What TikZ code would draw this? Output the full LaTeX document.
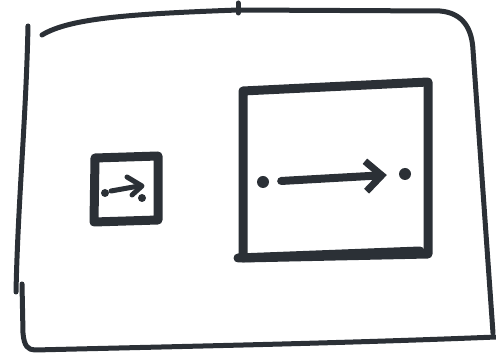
\documentclass[tikz,border=0pt]{standalone}
\usetikzlibrary{arrows.meta}
\definecolor{ink}{HTML}{2B3036}
\begin{document}
\begin{tikzpicture}[x=1pt,y=-1pt,
  thin ink/.style={draw=ink,line width=5pt,line cap=round,line join=round},
  thick ink/.style={draw=ink,line width=9pt,line cap=round,line join=round},
  dotnode/.style={circle,fill=ink,inner sep=0pt,minimum size=12pt},
  smalldot/.style={circle,fill=ink,inner sep=0pt,minimum size=8pt},
  chevron/.style={-{Straight Barb[length=16pt,width=30pt,line width=7pt]}}]
\useasboundingbox (0,0) rectangle (496,363);
% outer frame
\path[thin ink] (42,35) .. controls (70,18) and (130,14) .. (238,10)
  -- (440,11) .. controls (464,13) and (472,30) .. (473,50)
  -- (493,333);
\path[thin ink] (238,3) -- (238,13);
\path[thin ink] (28,26) .. controls (26,120) and (18,200) .. (16,292);
\path[thin ink] (22,284) -- (23,333) .. controls (24,346) and (28,350) .. (35,350)
  .. controls (200,346) and (350,343) .. (496,337);
% small square
\path[thick ink] (95,158) -- (158,156) -- (158,220) -- (94,222) -- cycle;
\node[smalldot] (sa) at (105,193) {};
\node[smalldot] (sb) at (142,198) {};
\path[draw=ink,line width=5pt,line cap=round] (111,191) -- (139,186);
\path[draw=ink,line width=5pt,line cap=round,line join=round] (127,177) -- (142,186) -- (132,195);
% big square
\path[thick ink] (243,91) -- (428,82) -- (428,254) -- (243,258) -- cycle;
\path[thick ink] (238,258) -- (420,251);
\node[dotnode] (da) at (263,182) {};
\node[dotnode] (db) at (405,174) {};
\draw[ink,line width=8pt,line cap=round,chevron,shorten <=12pt,shorten >=12pt] (da) -- (db);
\end{tikzpicture}
\end{document}
